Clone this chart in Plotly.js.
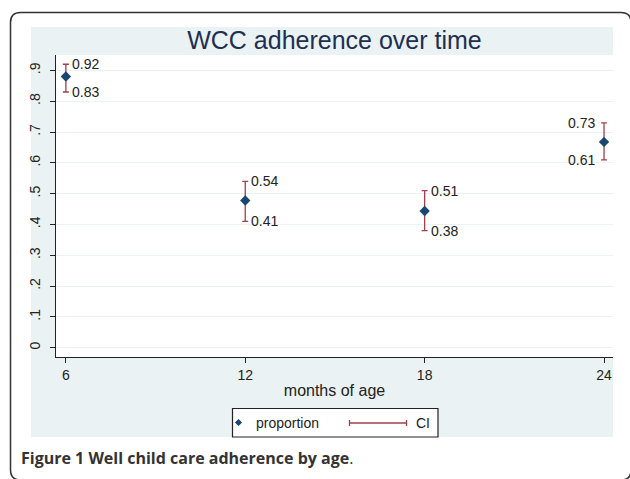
<!DOCTYPE html>
<html>
<head>
<meta charset="utf-8">
<script src="https://cdn.plot.ly/plotly-3.0.1.min.js"></script>
<style>html,body{margin:0;padding:0;background:#fff;}#chart{width:630px;height:479px;}</style>
</head>
<body>
<div id="chart"></div>
<script>
// ---- data ----
var months = [6, 12, 18, 24];
var proportion = [0.88, 0.478, 0.444, 0.668];
var ciLower = [0.83, 0.41, 0.38, 0.61];
var ciUpper = [0.92, 0.54, 0.51, 0.73];
var yTickVals = [0, 0.1, 0.2, 0.3, 0.4, 0.5, 0.6, 0.7, 0.8, 0.9];
var yTickText = ["0", ".1", ".2", ".3", ".4", ".5", ".6", ".7", ".8", ".9"];
var xTickVals = [6, 12, 18, 24];
var seriesNames = ["proportion", "CI"];

// ---- layout geometry (pixels) ----
var W = 630, H = 479;
var L = 56, R = 613, T = 55, B = 357;
function px(x) { return (x - L) / (R - L); }
function py(y) { return (B - y) / (B - T); }

// CI trace: isolated points (no connecting line) carrying the caps
var ciX = [], ciY = [], ciPlus = [], ciMinus = [];
months.forEach(function (m, i) {
  if (i > 0) { ciX.push(null); ciY.push(null); ciPlus.push(null); ciMinus.push(null); }
  ciX.push(m); ciY.push(proportion[i]);
  ciPlus.push(ciUpper[i] - proportion[i]);
  ciMinus.push(proportion[i] - ciLower[i]);
});

var red = '#a0404a';
var navy = '#1a476f';
var font = 'Liberation Sans, Arial, sans-serif';

var traces = [
  {
    x: ciX, y: ciY, name: seriesNames[1], type: 'scatter', mode: 'lines',
    connectgaps: false, showlegend: false,
    line: { color: red, width: 1.2 },
    error_y: { type: 'data', symmetric: false, array: ciPlus, arrayminus: ciMinus,
               color: red, thickness: 1.3, width: 3 },
    hoverinfo: 'skip'
  },
  {
    x: months, y: proportion, name: seriesNames[0], type: 'scatter', mode: 'markers',
    showlegend: false,
    marker: { symbol: 'diamond', size: 8, color: navy }
  }
];

var ann = [];
months.forEach(function (m, i) {
  var left = (i === months.length - 1);
  [ciUpper[i], ciLower[i]].forEach(function (v) {
    ann.push({
      x: m, y: v, xref: 'x', yref: 'y', text: v.toFixed(2), showarrow: false,
      xanchor: left ? 'right' : 'left', yanchor: 'middle',
      xshift: left ? -7 : 4,
      font: { family: font, size: 14, color: '#222' }
    });
  });
});
// legend texts
ann.push({ xref: 'paper', yref: 'paper', x: px(254), y: py(422.5), xanchor: 'left', yanchor: 'middle',
  showarrow: false, text: seriesNames[0], font: { family: font, size: 14, color: '#222' } });
ann.push({ xref: 'paper', yref: 'paper', x: px(414), y: py(422.5), xanchor: 'left', yanchor: 'middle',
  showarrow: false, text: seriesNames[1], font: { family: font, size: 14, color: '#222' } });
// caption
ann.push({
  xref: 'paper', yref: 'paper', x: px(19), y: py(458), xanchor: 'left', yanchor: 'middle',
  showarrow: false,
  text: '<b>Figure 1 Well child care adherence by age</b>.',
  font: { family: 'Open Sans, sans-serif', size: 16, color: '#333' }
});

var light = '#eaf2f3';
function rect(x0, y0, x1, y1, fill, lineColor, lw) {
  return { type: 'rect', xref: 'paper', yref: 'paper', x0: px(x0), x1: px(x1), y0: py(y1), y1: py(y0),
           fillcolor: fill, line: { width: lw || 0, color: lineColor || fill }, layer: 'below' };
}
function seg(x0, y0, x1, y1, color, w) {
  return { type: 'line', xref: 'paper', yref: 'paper', x0: px(x0), x1: px(x1), y0: py(y0), y1: py(y1),
           line: { color: color, width: w }, layer: 'above' };
}
// rounded frame
function framePath(x0, y0, x1, y1, r) {
  var rx = r / (R - L), ry = r / (B - T);
  var X0 = px(x0), X1 = px(x1), Y0 = py(y0), Y1 = py(y1);
  return 'M' + (X0 + rx) + ',' + Y0 + ' L' + (X1 - rx) + ',' + Y0 +
    ' Q' + X1 + ',' + Y0 + ' ' + X1 + ',' + (Y0 - ry) +
    ' L' + X1 + ',' + (Y1 + ry) + ' Q' + X1 + ',' + Y1 + ' ' + (X1 - rx) + ',' + Y1 +
    ' L' + (X0 + rx) + ',' + Y1 + ' Q' + X0 + ',' + Y1 + ' ' + X0 + ',' + (Y1 + ry) +
    ' L' + X0 + ',' + (Y0 - ry) + ' Q' + X0 + ',' + Y0 + ' ' + (X0 + rx) + ',' + Y0 + ' Z';
}
function diamondPath(cx, cy, r) {
  var rx = r / (R - L), ry = r / (B - T);
  var X = px(cx), Y = py(cy);
  return 'M' + X + ',' + (Y + ry) + ' L' + (X + rx) + ',' + Y + ' L' + X + ',' + (Y - ry) +
    ' L' + (X - rx) + ',' + Y + ' Z';
}

var shapes = [
  rect(31, 27, 613, 55, light),
  rect(31, 55, 56, 437, light),
  rect(56, 357, 613, 437, light),
  { type: 'path', xref: 'paper', yref: 'paper', path: framePath(10.5, 12.5, 631, 480, 10),
    line: { color: '#333', width: 1.5 }, fillcolor: 'rgba(0,0,0,0)', layer: 'below' },
  // legend box and symbols
  { type: 'rect', xref: 'paper', yref: 'paper', x0: px(232.5), x1: px(438), y0: py(437), y1: py(408.5),
    fillcolor: '#ffffff', line: { color: '#222', width: 1.2 }, layer: 'above' },
  { type: 'path', xref: 'paper', yref: 'paper', path: diamondPath(238.5, 422.5, 3.6),
    fillcolor: navy, line: { width: 0 }, layer: 'above' },
  seg(349, 423, 407, 423, red, 1.3),
  seg(349.5, 420, 349.5, 426, red, 1.3),
  seg(406.5, 420, 406.5, 426, red, 1.3)
];

var layout = {
  width: W, height: H,
  margin: { l: L, r: W - R, t: T, b: H - B, pad: 0 },
  paper_bgcolor: '#ffffff', plot_bgcolor: '#ffffff',
  font: { family: font, size: 13, color: '#222' },
  title: {
    text: 'WCC adherence over time', xref: 'paper', x: 0.5, xanchor: 'center',
    yref: 'container', y: 1 - 40 / H, yanchor: 'middle',
    font: { family: font, size: 25, color: '#1e2f52' }
  },
  xaxis: {
    range: [5.67, 24.3], tickvals: xTickVals, ticks: 'outside', ticklen: 5, tickcolor: '#222',
    showline: true, linecolor: '#222', linewidth: 1.3, showgrid: false, zeroline: false,
    tickfont: { size: 14, color: '#222' },
    title: { text: 'months of age', standoff: 2, font: { size: 16, color: '#222' } }
  },
  yaxis: {
    range: [-0.03, 0.95], tickvals: yTickVals, ticktext: yTickText, tickangle: -90,
    ticks: 'outside', ticklen: 5, tickcolor: '#222', ticklabelstandoff: 4,
    showline: true, linecolor: '#222', linewidth: 1.3,
    showgrid: true, gridcolor: light, gridwidth: 1, zeroline: false,
    tickfont: { size: 14, color: '#222' }
  },
  annotations: ann,
  shapes: shapes,
  showlegend: false
};

Plotly.newPlot('chart', traces, layout, { staticPlot: true, displayModeBar: false });
</script>
</body>
</html>
